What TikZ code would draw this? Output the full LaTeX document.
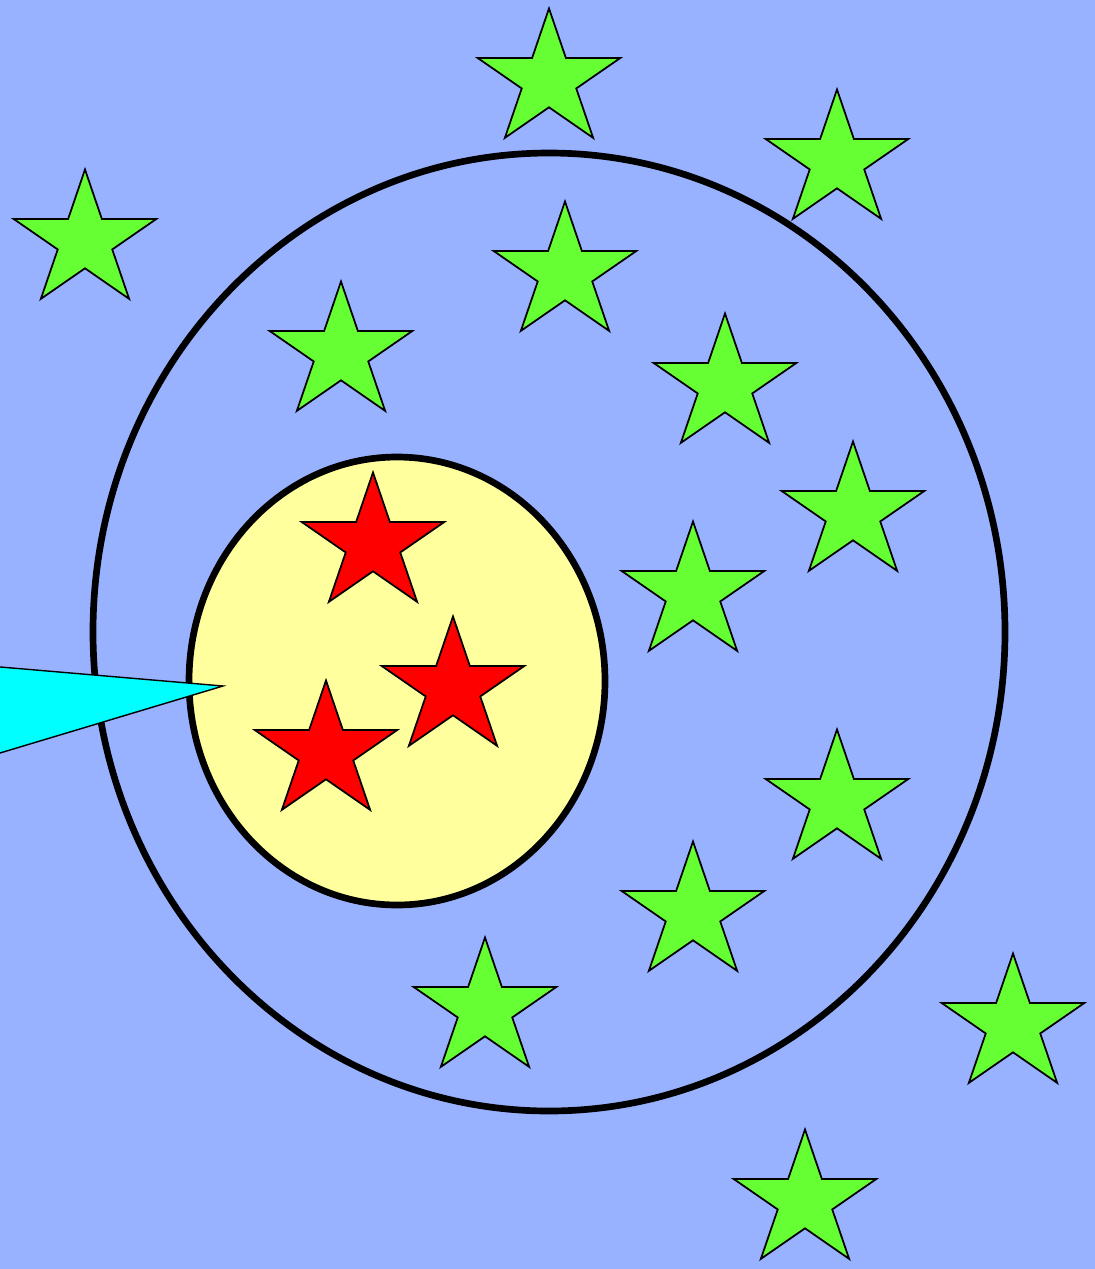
\documentclass[tikz,border=0pt]{standalone}
\definecolor{skyblue}{RGB}{153,178,255}
\definecolor{leafgreen}{RGB}{102,255,51}
\definecolor{paleyellow}{RGB}{255,255,158}
\definecolor{aquacyan}{RGB}{0,255,255}
\tikzset{
  ring/.style={draw=black,line width=1.9pt},
  pics/fivestar/.style={code={
    \draw[fill=#1,line width=0.5pt,xscale=1.05,yscale=-1]
      (90:71.5) -- (126:27.3) -- (162:71.5) -- (198:27.3) -- (234:71.5) -- (270:27.3)
      -- (306:71.5) -- (342:27.3) -- (18:71.5) -- (54:27.3) -- cycle;
  }},
}

\begin{document}
\begin{tikzpicture}[x=0.01cm,y=-0.01cm]
\useasboundingbox (0,0) rectangle (1095,1269);
\fill[skyblue] (0,0) rectangle (1095,1269);
\clip (0,0) rectangle (1095,1269);
% rings
\draw[ring] (549,632) ellipse [x radius=456, y radius=479];
\draw[ring,fill=paleyellow] (397,681) ellipse [x radius=208, y radius=224];
% stars
\foreach \sx/\sy in {549/80, 837/161, 85/241, 565/273, 341/353, 725/385, 853/513,
  693/593, 837/801, 693/913, 485/1009, 1013/1025, 805/1201}
  \pic at (\sx,\sy) {fivestar=leafgreen};
\foreach \sx/\sy in {373/544, 453/688, 326/752}
  \pic at (\sx,\sy) {fivestar=red};
% pointer
\draw[fill=aquacyan,line width=0.4pt] (-30,664.4) -- (223,686) -- (-30,762) -- cycle;
\end{tikzpicture}
\end{document}
